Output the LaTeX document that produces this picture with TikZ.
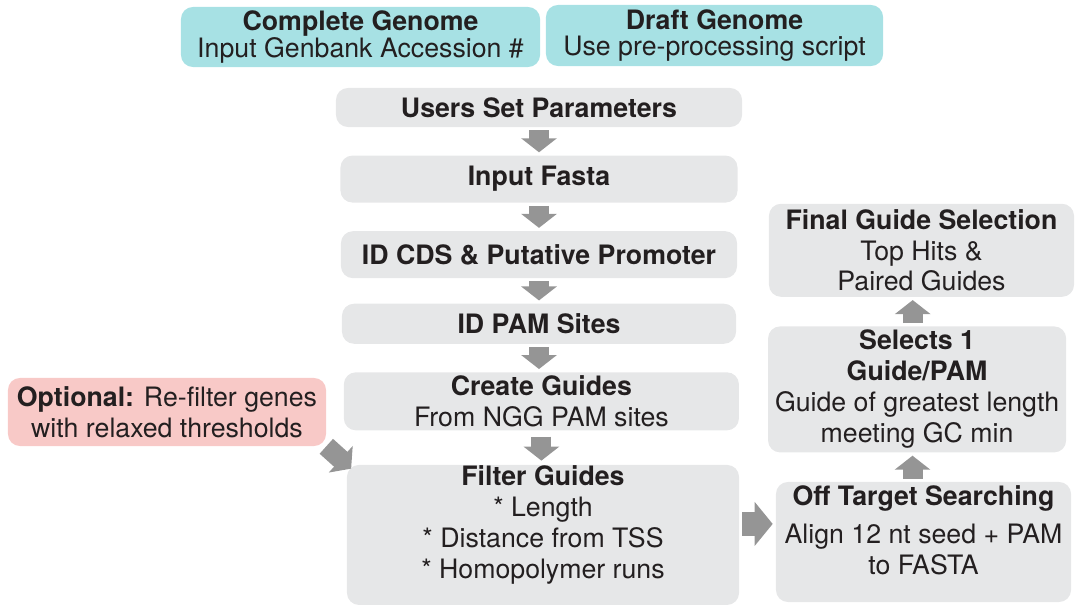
\documentclass[tikz,border=0pt]{standalone}
\usepackage{fontspec}
\setmainfont{TeX Gyre Heros}
\usetikzlibrary{
  arrows.meta,
  calc,
  positioning
}
\definecolor{boxgray}{HTML}{E6E7E8}
\definecolor{genometeal}{HTML}{A7E1E4}
\definecolor{optionpink}{HTML}{F8C9C7}
\definecolor{arrowgray}{HTML}{959595}
\definecolor{textblack}{HTML}{231F20}
\tikzset{
%
  % For the text in all boxes.
  box text/.style={
    text=textblack,
    font=\fontsize{19}{22}\selectfont,
    align=center,
    inner sep=0pt},
%
  % For boxes in general.
  box/.style={
    box text,
    fill=boxgray,
    rounded corners=0.3cm},
%
  % For the two genome inputs.
  genome box/.style={
    box,
    fill=genometeal,
    font=\fontsize{19}{18}\selectfont},
%
  % For the optional re-filter.
  optional box/.style={
    box,
    fill=optionpink},
%
  % For the arrows from step to step.
  flow arrow/.style={
    arrowgray,
    line width=0.5cm,
    -{Triangle[length=0.35cm,
               width=0.875cm]},
    shorten <=0.075cm,
    shorten >=0.075cm},
%
  % For the wider arrow to the right column.
  side arrow/.style={
    flow arrow,
    line width=0.6cm,
    -{Triangle[length=0.45cm,
               width=1.075cm]}}
}

\begin{document}
\begin{tikzpicture}[x=0.025cm, y=-0.025cm]
  \useasboundingbox (0,0) rectangle (1075,604);

  \node[genome box,
        minimum width=8.975cm,
        minimum height=1.5cm] (CG) at (360.5,37)
    {\textbf{Complete Genome}\\Input Genbank Accession \#};
  \node[genome box,
        minimum width=8.425cm,
        minimum height=1.525cm] (DG) at (714.5,35.5)
    {\textbf{Draft Genome}\\Use pre-processing script};

  % The main column.
  \node[box, minimum width=10.15cm, minimum height=0.975cm] (USP) at (539,107.5)
    {\textbf{Users Set Parameters}};
  \node[box, minimum width=9.925cm, minimum height=1.175cm] (IF) [below=0.7cm of USP]
    {\textbf{Input Fasta}};
  \node[box, minimum width=9.9cm, minimum height=1.175cm] (CDS) [below=0.7cm of IF]
    {\textbf{ID CDS \& Putative Promoter}};
  \node[box, minimum width=9.85cm, minimum height=1cm] (PAM) [below=0.625cm of CDS]
    {\textbf{ID PAM Sites}};
  \node[box, minimum width=9.875cm, minimum height=1.45cm] (CRG) [below=0.7cm of PAM, xshift=0.06cm]
    {\textbf{Create Guides}\\From NGG PAM sites};
  \node[box, minimum width=9.8cm, minimum height=3.5cm, text depth=0.65cm] (FG) [below=0.85cm of CRG, xshift=0.04cm]
    {\textbf{Filter Guides}\\* Length\\* Distance from TSS\\* Homopolymer runs};

  \node[optional box,
        minimum width=7.95cm,
        minimum height=1.7cm] (OPT) at (167,412)
    {\textbf{Optional:} Re-filter genes\\with relaxed thresholds};

  % The right column, from the bottom up.
  \node[box, minimum width=7.375cm, minimum height=3cm, text depth=0.6cm] (OTS) at (923.5,542)
    {\textbf{Off Target Searching}\\[5pt]Align 12 nt seed + PAM\\to FASTA};
  \node[box, minimum width=7.45cm, minimum height=3.15cm] (SEL) [above=0.725cm of OTS, xshift=-0.16cm]
    {\textbf{Selects 1}\\\textbf{Guide/PAM}\\Guide of greatest length\\meeting GC min};
  \node[box, minimum width=7.625cm, minimum height=2.325cm] (FIN) [above=0.725cm of SEL, xshift=0.11cm]
    {\textbf{Final Guide Selection}\\Top Hits \&\\Paired Guides};

  \draw[flow arrow] (USP.south) -- (USP.south |- IF.north);
  \draw[flow arrow] (IF.south) -- (IF.south |- CDS.north);
  \draw[flow arrow] (CDS.south) -- (CDS.south |- PAM.north);
  \draw[flow arrow] (PAM.south) -- (PAM.south |- CRG.north);
  \draw[flow arrow, shorten <=0.15cm, shorten >=0.1cm] (CRG.south) -- (CRG.south |- FG.north);
  \draw[flow arrow, shorten <=0cm, shorten >=-0.15cm] (OPT.south east) -- (FG.north west);

  \draw[side arrow] ([yshift=0.275cm]FG.east) -- ([yshift=0.275cm]FG.east -| OTS.west);
  \draw[flow arrow] ([xshift=-0.275cm]OTS.north) -- ([xshift=-0.275cm]OTS.north |- SEL.south);
  \draw[flow arrow] ([xshift=-0.11cm]SEL.north) -- ([xshift=-0.11cm]SEL.north |- FIN.south);
\end{tikzpicture}
\end{document}
